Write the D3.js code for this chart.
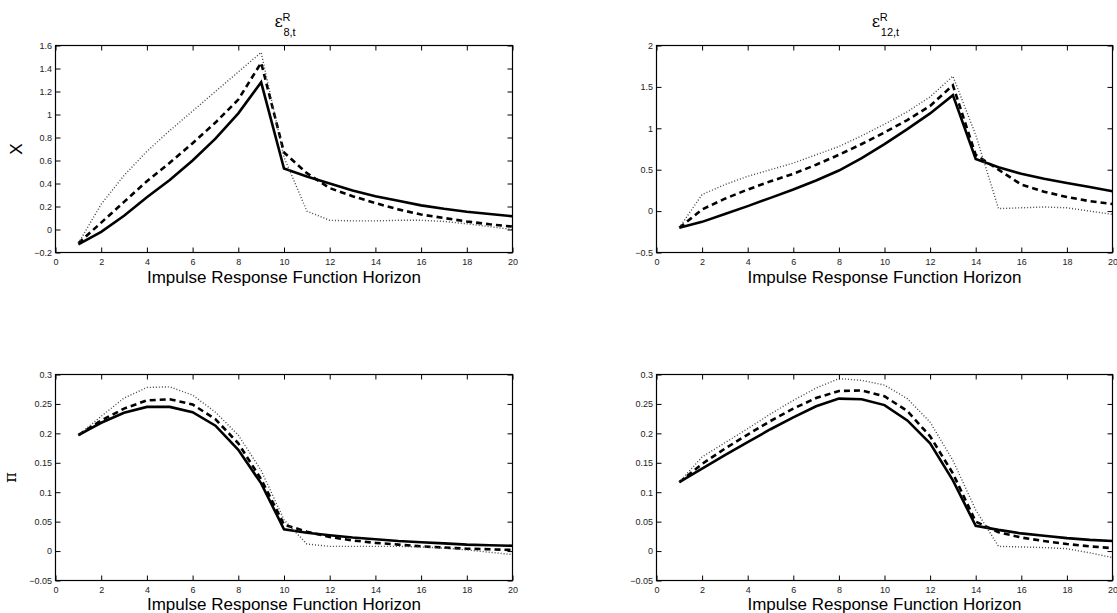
<!DOCTYPE html>
<html>
<head>
<meta charset="utf-8">
<script src="https://cdn.jsdelivr.net/npm/d3@7"></script>
<style>
  html, body { margin: 0; padding: 0; background: #fff; }
  svg { display: block; }
  text { font-family: "Liberation Sans", Arial, Helvetica, sans-serif; }
</style>
</head>
<body>
<svg id="chart" width="1117" height="613"></svg>
<script>
// Impulse response horizon (periods)
const horizon = [1, 2, 3, 4, 5, 6, 7, 8, 9, 10, 11, 12, 13, 14, 15, 16, 17, 18, 19, 20];

// Response of X to the 8-period-ahead shock
const x8Solid  = [-0.13, -0.02, 0.12, 0.28, 0.43, 0.60, 0.79, 1.01, 1.28, 0.53, 0.46, 0.40, 0.34, 0.29, 0.25, 0.21, 0.18, 0.155, 0.135, 0.115];
const x8Dashed = [-0.12, 0.06, 0.24, 0.42, 0.58, 0.75, 0.93, 1.13, 1.45, 0.67, 0.49, 0.36, 0.29, 0.23, 0.175, 0.13, 0.10, 0.07, 0.045, 0.025];
const x8Dotted = [-0.12, 0.22, 0.47, 0.68, 0.86, 1.03, 1.20, 1.37, 1.54, 0.63, 0.16, 0.08, 0.075, 0.075, 0.08, 0.08, 0.07, 0.05, 0.025, 0.0];

// Response of X to the 12-period-ahead shock
const x12Solid  = [-0.2, -0.13, -0.035, 0.06, 0.16, 0.26, 0.37, 0.49, 0.64, 0.81, 0.99, 1.18, 1.40, 0.63, 0.53, 0.45, 0.39, 0.34, 0.29, 0.24];
const x12Dashed = [-0.2, 0.02, 0.15, 0.26, 0.36, 0.45, 0.56, 0.68, 0.81, 0.95, 1.10, 1.27, 1.52, 0.68, 0.50, 0.32, 0.235, 0.17, 0.12, 0.085];
const x12Dotted = [-0.2, 0.2, 0.32, 0.42, 0.50, 0.58, 0.68, 0.78, 0.91, 1.05, 1.20, 1.38, 1.63, 0.92, 0.03, 0.04, 0.05, 0.04, 0.0, -0.04];

// Response of inflation to the 8-period-ahead shock
const pi8Solid  = [0.197, 0.218, 0.235, 0.245, 0.245, 0.236, 0.213, 0.172, 0.115, 0.037, 0.031, 0.027, 0.023, 0.020, 0.017, 0.015, 0.013, 0.011, 0.010, 0.009];
const pi8Dashed = [0.197, 0.222, 0.242, 0.256, 0.258, 0.249, 0.224, 0.183, 0.122, 0.045, 0.033, 0.024, 0.018, 0.014, 0.011, 0.008, 0.006, 0.004, 0.003, 0.002];
const pi8Dotted = [0.197, 0.229, 0.26, 0.278, 0.279, 0.265, 0.236, 0.197, 0.137, 0.053, 0.012, 0.008, 0.008, 0.008, 0.008, 0.007, 0.005, 0.002, -0.002, -0.006];

// Response of inflation to the 12-period-ahead shock
const pi12Solid  = [0.117, 0.140, 0.163, 0.185, 0.207, 0.227, 0.246, 0.259, 0.258, 0.248, 0.222, 0.183, 0.120, 0.043, 0.036, 0.030, 0.026, 0.022, 0.019, 0.017];
const pi12Dashed = [0.117, 0.148, 0.174, 0.198, 0.221, 0.242, 0.260, 0.272, 0.273, 0.263, 0.238, 0.195, 0.132, 0.050, 0.032, 0.023, 0.017, 0.012, 0.008, 0.005];
const pi12Dotted = [0.117, 0.160, 0.184, 0.208, 0.233, 0.256, 0.277, 0.293, 0.290, 0.282, 0.259, 0.219, 0.154, 0.070, 0.008, 0.007, 0.006, 0.004, -0.003, -0.011];

// Axis ticks
const xTicks = [0, 2, 4, 6, 8, 10, 12, 14, 16, 18, 20];
const yTicksX8 = [-0.2, 0, 0.2, 0.4, 0.6, 0.8, 1, 1.2, 1.4, 1.6];
const yTicksX12 = [-0.5, 0, 0.5, 1, 1.5, 2];
const yTicksPi = [-0.05, 0, 0.05, 0.1, 0.15, 0.2, 0.25, 0.3];

const xLabel = "Impulse Response Function Horizon";

const svg = d3.select("#chart");

const lineStyles = [
  { width: 2.6, dash: null, color: "#000" },
  { width: 2.6, dash: "6,4", color: "#000" },
  { width: 1.4, dash: "1,2", color: "#444" }
];

const panels = [
  { box: [55.5, 45.5, 512.5, 252.5], yDomain: [-0.2, 1.6], yTicks: yTicksX8,
    series: [x8Solid, x8Dashed, x8Dotted], sub: "8,t", ylabel: "X", xlabBase: 283 },
  { box: [656.5, 45.5, 1112.5, 252.5], yDomain: [-0.5, 2], yTicks: yTicksX12,
    series: [x12Solid, x12Dashed, x12Dotted], sub: "12,t", ylabel: null, xlabBase: 283 },
  { box: [55.5, 374.5, 512.5, 580.5], yDomain: [-0.05, 0.3], yTicks: yTicksPi,
    series: [pi8Solid, pi8Dashed, pi8Dotted], sub: null, ylabel: "\u03c0", xlabBase: 610 },
  { box: [656.5, 374.5, 1112.5, 580.5], yDomain: [-0.05, 0.3], yTicks: yTicksPi,
    series: [pi12Solid, pi12Dashed, pi12Dotted], sub: null, ylabel: null, xlabBase: 610 }
];

const fmt = d3.format("~g");

panels.forEach(p => {
  const [l, t, r, b] = p.box;
  const x = d3.scaleLinear().domain([0, 20]).range([l, r]);
  const y = d3.scaleLinear().domain(p.yDomain).range([b, t]);
  const g = svg.append("g");

  // series lines
  const line = d3.line().x((d, i) => x(horizon[i])).y(d => y(d));
  p.series.forEach((s, k) => {
    const st = lineStyles[k];
    g.append("path")
      .datum(s)
      .attr("d", line)
      .attr("fill", "none")
      .attr("stroke", st.color)
      .attr("stroke-width", st.width)
      .attr("stroke-linejoin", "miter")
      .attr("stroke-dasharray", st.dash);
  });

  // axes with inward ticks on all four sides
  const axB = g.append("g").attr("transform", `translate(0,${b})`)
    .call(d3.axisBottom(x).tickValues(xTicks).tickSize(-5).tickSizeOuter(0).tickPadding(6).tickFormat(fmt));
  const axT = g.append("g").attr("transform", `translate(0,${t})`)
    .call(d3.axisTop(x).tickValues(xTicks).tickSize(-5).tickSizeOuter(0).tickFormat(""));
  const axL = g.append("g").attr("transform", `translate(${l},0)`)
    .call(d3.axisLeft(y).tickValues(p.yTicks).tickSize(-5).tickSizeOuter(0).tickPadding(3.5).tickFormat(fmt));
  const axR = g.append("g").attr("transform", `translate(${r},0)`)
    .call(d3.axisRight(y).tickValues(p.yTicks).tickSize(-5).tickSizeOuter(0).tickFormat(""));

  [axB, axT, axL, axR].forEach(a => {
    a.select(".domain").remove();
    a.selectAll(".tick line").attr("stroke", "#000").attr("stroke-width", 1);
    a.selectAll("text")
      .attr("fill", "#222")
      .style("font-family", "'Liberation Sans', Arial, sans-serif")
      .style("font-size", "9px");
  });

  // frame
  g.append("rect")
    .attr("x", l).attr("y", t)
    .attr("width", r - l).attr("height", b - t)
    .attr("fill", "none").attr("stroke", "#000").attr("stroke-width", 1.2);

  // x-axis label
  g.append("text")
    .attr("x", (l + r) / 2).attr("y", p.xlabBase)
    .attr("text-anchor", "middle")
    .style("font-size", "17px")
    .attr("fill", "#000")
    .text(xLabel);

  // y-axis label
  if (p.ylabel) {
    const bx = p.ylabel === "X" ? 21.5 : 15.5;
    g.append("text")
      .attr("transform", `translate(${bx},${(t + b) / 2}) rotate(-90)`)
      .attr("text-anchor", "middle")
      .style("font-size", p.ylabel === "X" ? "17px" : "16px")
      .style("font-family", p.ylabel === "X" ? "'Liberation Sans', Arial, sans-serif" : "'DejaVu Serif', serif")
      .attr("fill", "#000")
      .text(p.ylabel);
  }

  // title: epsilon with superscript R and subscript
  if (p.sub) {
    const tg = g.append("g");
    tg.append("text").attr("x", 0).attr("y", 27)
      .style("font-family", "'DejaVu Serif', 'Liberation Serif', serif")
      .style("font-size", "16px").attr("fill", "#000").text("\u03b5");
    tg.append("text").attr("x", 8).attr("y", 20.5)
      .style("font-size", "11px").attr("fill", "#000").text("R");
    tg.append("text").attr("x", 9).attr("y", 36)
      .style("font-size", "11px").attr("fill", "#000").text(p.sub);
    const bb = tg.node().getBBox();
    tg.attr("transform", `translate(${(l + r) / 2 - bb.width / 2 + 1},0)`);
  }
});
</script>
</body>
</html>
